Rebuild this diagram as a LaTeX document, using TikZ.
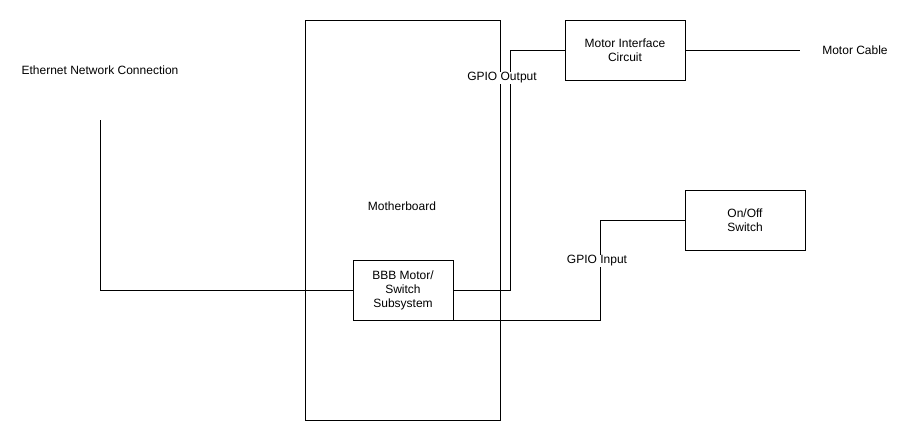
\documentclass[tikz,border=0pt]{standalone}
\usepackage{fontspec}
\setmainfont{Liberation Sans}
\usepackage{tikz}

\begin{document}
\begin{tikzpicture}[x=1pt,y=-1pt,font=\fontsize{12}{14}\selectfont]
			\tikzstyle{block} = [draw, line width=1pt, align=center, inner sep=0pt]
			\tikzstyle{tag} = [align=center, inner sep=1pt]
			\tikzstyle{gpio} = [fill=white, inner sep=1pt]
			\tikzset{wire/.style = {-, line width=1pt}}
			\useasboundingbox (0,0) rectangle (906,421);
			
			\node[block, minimum width=195pt, minimum height=400pt](mboard) at (402.5,220) {};
			\node[tag](mboardtxt) at (402,206) {Motherboard};
			\node[block, fill=white, minimum width=100pt, minimum height=60pt](bbb) at (403,290) {BBB Motor/\\Switch\\Subsystem};
			\node[block, minimum width=120pt, minimum height=60pt](motor) at (625,50) {Motor Interface\\Circuit};
			\node[block, minimum width=120pt, minimum height=60pt](switch) at (745,220) {On/Off\\Switch};
			
			\node[tag](ethernet) at (100,70) {Ethernet Network Connection};
			\coordinate (ethend) at (100,120);
			\draw[wire](ethend) |- (bbb.west);
			
			\node[tag](cable) at (855,50) {Motor Cable};
			\coordinate (cableend) at (800,50);
			\draw[wire](motor.east) to (cableend);
			
			\draw[wire](bbb.east) -- ++(57,0) |- (motor.west);
			\draw[wire](bbb.south east) -- ++(147,0) |- (switch.west);
			
			\node[gpio](gpioout) at (502,78) {GPIO Output};
			\node[gpio](gpioin) at (597,261) {GPIO Input};
			
			\end{tikzpicture}
\end{document}
